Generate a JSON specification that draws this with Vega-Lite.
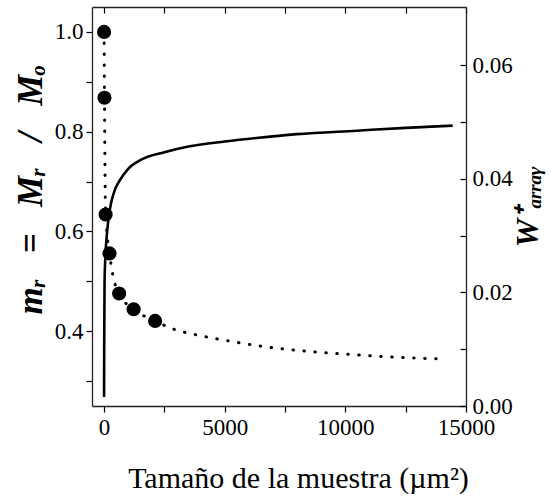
{
  "$schema": "https://vega.github.io/schema/vega-lite/v6.json",
  "width": 374,
  "height": 399,
  "autosize": {"type": "none"},
  "padding": {"left": 92, "top": 7, "right": 85, "bottom": 97},
  "background": "white",
  "config": {
    "view": {"stroke": null},
    "font": "Liberation Serif"
  },
  "datasets": {
    "curve_m": [
      {"x": 0, "m": 1.0},
      {"x": 16, "m": 0.868},
      {"x": 64, "m": 0.634},
      {"x": 225, "m": 0.556},
      {"x": 365, "m": 0.512},
      {"x": 625, "m": 0.4755},
      {"x": 1225, "m": 0.444},
      {"x": 2116, "m": 0.4206},
      {"x": 2718, "m": 0.407},
      {"x": 4100, "m": 0.39},
      {"x": 5000, "m": 0.382},
      {"x": 6500, "m": 0.37},
      {"x": 8208, "m": 0.3606},
      {"x": 9979, "m": 0.354},
      {"x": 12000, "m": 0.348},
      {"x": 14130, "m": 0.344}
    ],
    "points": [
      {"x": 0, "m": 1.0},
      {"x": 16, "m": 0.868},
      {"x": 64, "m": 0.634},
      {"x": 225, "m": 0.556},
      {"x": 625, "m": 0.4755},
      {"x": 1225, "m": 0.444},
      {"x": 2116, "m": 0.4206}
    ],
    "curve_w": [
      {"x": 0, "w": 0.0016},
      {"x": 5, "w": 0.010},
      {"x": 20, "w": 0.0216},
      {"x": 60, "w": 0.0268},
      {"x": 118, "w": 0.0303},
      {"x": 200, "w": 0.0335},
      {"x": 298, "w": 0.0359},
      {"x": 450, "w": 0.0381},
      {"x": 643, "w": 0.0397},
      {"x": 1000, "w": 0.0418},
      {"x": 1543, "w": 0.0434},
      {"x": 2500, "w": 0.0447},
      {"x": 3548, "w": 0.04575},
      {"x": 5000, "w": 0.0466},
      {"x": 6315, "w": 0.04723},
      {"x": 8000, "w": 0.0479},
      {"x": 10465, "w": 0.04851},
      {"x": 12500, "w": 0.0490},
      {"x": 14448, "w": 0.0494}
    ]
  },
  "layer": [
    {
      "data": {"name": "curve_m"},
      "mark": {"type": "line", "color": "black", "strokeWidth": 3, "strokeDash": [0.5, 10.5], "strokeCap": "round", "interpolate": "monotone"},
      "encoding": {
        "x": {
          "field": "x", "type": "quantitative",
          "scale": {"domain": [-500, 15000], "nice": false, "zero": false},
          "axis": {
            "orient": "bottom",
            "grid": false,
            "values": [0, 2500, 5000, 7500, 10000, 12500, 15000],
            "labelExpr": "datum.value % 5000 === 0 ? format(datum.value, 'd') : ''",
            "labelFont": "Liberation Serif",
            "labelFontSize": 23,
            "labelColor": "black",
            "labelFlush": false,
            "labelOverlap": false,
            "labelPadding": 4,
            "tickColor": "black",
            "tickSize": 6,
            "tickWidth": 1.2,
            "domainColor": "#222",
            "domainWidth": 1.3,
            "title": "Tamaño de la muestra (µm²)",
            "titleFont": "Liberation Serif",
            "titleColor": "black",
            "titleFontSize": 30,
            "titleFontWeight": "normal",
            "titleX": 206,
            "titlePadding": 24
          }
        },
        "y": {
          "field": "m", "type": "quantitative",
          "scale": {"domain": [0.25, 1.05], "nice": false, "zero": false},
          "axis": {
            "orient": "left",
            "grid": false,
            "values": [0.3, 0.4, 0.5, 0.6, 0.7, 0.8, 0.9, 1.0],
            "labelExpr": "round(datum.value * 10) % 2 == 0 ? format(datum.value, '.1f') : ''",
            "labelFont": "Liberation Serif",
            "labelFontSize": 23,
            "labelColor": "black",
            "labelFlush": false,
            "labelOverlap": false,
            "labelPadding": 3,
            "tickColor": "black",
            "tickSize": 6,
            "tickWidth": 1.2,
            "domainColor": "#222",
            "domainWidth": 1.3,
            "title": "m\u1d63\u2002 =\u2002 M\u1d63\u2002 /\u2002 M\u2092",
            "titleFont": "Liberation Serif",
            "titleColor": "black",
            "titleFontSize": 35,
            "titleFontWeight": "bold",
            "titleFontStyle": "italic",
            "titleY": 182,
            "titlePadding": 6
          }
        }
      }
    },
    {
      "data": {"name": "points"},
      "mark": {"type": "point", "shape": "circle", "filled": true, "color": "black", "size": 200, "opacity": 1},
      "encoding": {
        "x": {"field": "x", "type": "quantitative", "scale": {"domain": [-500, 15000], "nice": false, "zero": false}, "axis": null},
        "y": {"field": "m", "type": "quantitative", "scale": {"domain": [0.25, 1.05], "nice": false, "zero": false}, "axis": null}
      }
    },
    {
      "data": {"name": "curve_w"},
      "mark": {"type": "line", "color": "black", "strokeWidth": 2.6, "interpolate": "monotone"},
      "encoding": {
        "x": {
          "field": "x", "type": "quantitative",
          "scale": {"domain": [-500, 15000], "nice": false, "zero": false},
          "axis": {
            "orient": "top",
            "grid": false,
            "values": [0, 2500, 5000, 7500, 10000, 12500, 15000],
            "labels": false,
            "tickColor": "black",
            "tickSize": -6,
            "tickWidth": 1.2,
            "domainColor": "#222",
            "domainWidth": 1.3,
            "title": null
          }
        },
        "y": {
          "field": "w", "type": "quantitative",
          "scale": {"domain": [0, 0.0703], "nice": false, "zero": false},
          "axis": {
            "orient": "right",
            "grid": false,
            "values": [0, 0.01, 0.02, 0.03, 0.04, 0.05, 0.06],
            "labelExpr": "round(datum.value * 100) % 2 == 0 ? format(datum.value, '.2f') : ''",
            "labelFont": "Liberation Serif",
            "labelFontSize": 23,
            "labelColor": "black",
            "labelFlush": false,
            "labelOverlap": false,
            "labelPadding": 12,
            "tickColor": "black",
            "tickSize": -6,
            "tickWidth": 1.2,
            "domainColor": "#222",
            "domainWidth": 1.3,
            "title": "W\u207a\u2090\u1d63\u1d63\u2090\u1d67",
            "titleFont": "Liberation Serif",
            "titleColor": "black",
            "titleAngle": 270,
            "titleBaseline": "top",
            "titleFontSize": 32,
            "titleFontWeight": "bold",
            "titleFontStyle": "italic",
            "titlePadding": 0
          }
        }
      }
    }
  ],
  "resolve": {"scale": {"y": "independent"}, "axis": {"x": "independent", "y": "independent"}}
}
